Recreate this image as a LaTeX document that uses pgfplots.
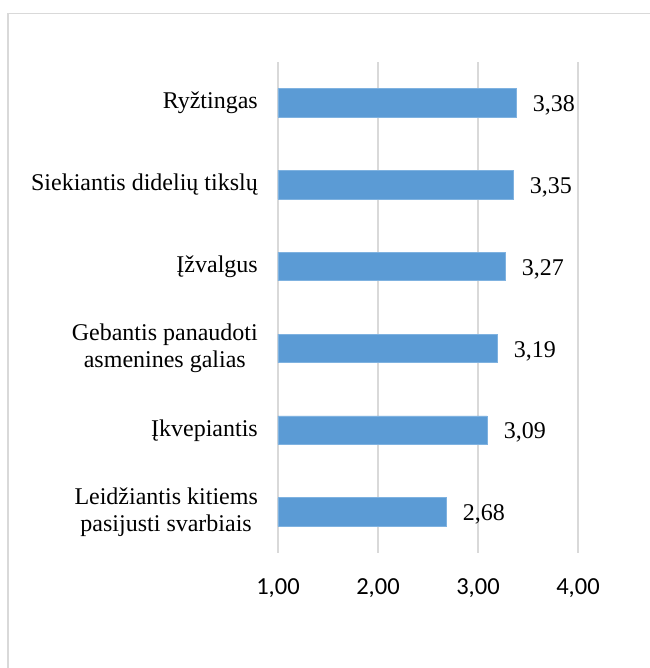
\documentclass[border=0pt]{standalone}
\usepackage{fontspec}
\setmainfont{Liberation Serif}
\newfontfamily\calibri{Carlito}
\usepackage{pgfplots}
\pgfplotsset{compat=1.18}
\definecolor{barblue}{HTML}{5B9BD5}
\definecolor{baredge}{HTML}{7FB2E0}
\definecolor{gridgray}{HTML}{D9D9D9}
\begin{document}
\begin{tikzpicture}[x=1pt,y=1pt]
\useasboundingbox (-278,-115) rectangle (371,553);
\fill[white] (-278,-115) rectangle (371,553);
\draw[gridgray, line width=1.5pt] (-270,-116) -- (-270,539.5) -- (372,539.5);
\begin{axis}[
  at={(0,0)}, anchor=south west,
  scale only axis,
  width=300pt, height=491pt,
  xbar, bar shift=0pt, bar width=28.5pt,
  xmin=1, xmax=4,
  ymin=-0.5, ymax=5.5,
  axis line style={draw=none},
  major tick length=0pt,
  xtick={1,2,3,4},
  xmajorgrids, grid style={gridgray, line width=1.5pt},
  ytick={0,1,2,3,4,5},
  yticklabels={{Leidžiantis kitiems\\pasijusti svarbiais},{Įkvepiantis},{Gebantis panaudoti\\asmenines galias},{Įžvalgus},{Siekiantis didelių tikslų},{Ryžtingas}},
  yticklabel style={font=\fontsize{24}{27.5}\selectfont, align=center, anchor=east, inner sep=0pt, xshift=-20pt},
  xticklabel style={font=\calibri\fontsize{24.5}{28}\selectfont, anchor=north, inner sep=0pt, yshift=-25pt,
    /pgf/number format/.cd, fixed, fixed zerofill, precision=2, use comma},
  /pgf/number format/assume math mode=true,
  nodes near coords={\pgfmathprintnumber[fixed, fixed zerofill, precision=2, use comma, assume math mode=true]{\pgfplotspointmeta}},
  nodes near coords style={font=\fontsize{24}{27.5}\selectfont, anchor=west, inner sep=0pt, xshift=16.5pt, yshift=-2.5pt, text=black},
  point meta=x,
  clip=false,
]
\addplot[fill=barblue, draw=baredge, line width=0.8pt] coordinates {
  (2.68,0) (3.09,1) (3.19,2) (3.27,3) (3.35,4) (3.38,5)
};
\end{axis}
\end{tikzpicture}
\end{document}
